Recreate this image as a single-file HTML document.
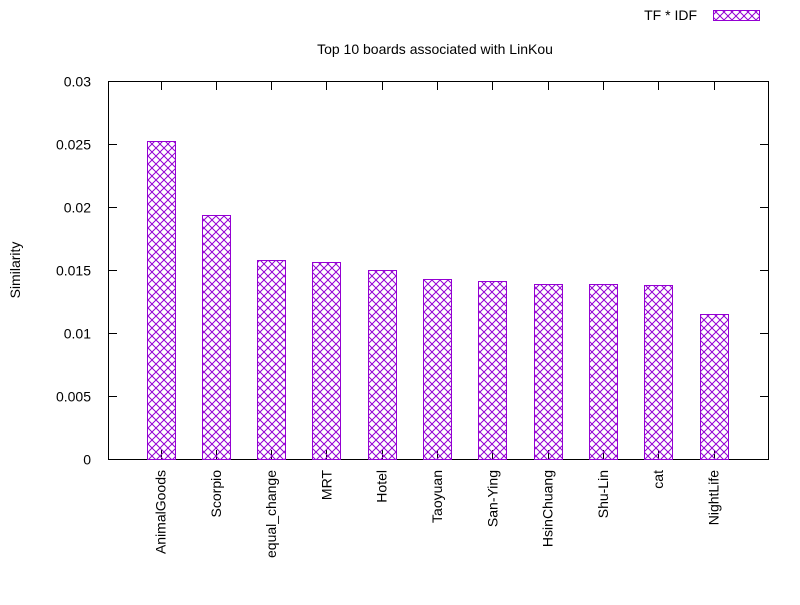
<!DOCTYPE html>
<html><head><meta charset="utf-8"><style>body{margin:0;background:#fff}svg text{font-family:"Liberation Sans",sans-serif;font-size:14px;fill:#000}</style></head>
<body>
<svg id="chart" width="800" height="600" xmlns="http://www.w3.org/2000/svg">
<defs>
<pattern id="hatch" patternUnits="userSpaceOnUse" width="8" height="8">
<path d="M0,0 L8,8 M8,0 L0,8" stroke="#9400d3" stroke-width="1" fill="none"/>
</pattern>
</defs>
<rect x="108.5" y="81.5" width="660" height="378" fill="none" stroke="#000" stroke-width="1"/>
<text x="435" y="54" text-anchor="middle">Top 10 boards associated with LinKou</text>
<text transform="translate(20,270) rotate(-90)" text-anchor="middle">Similarity</text>
<text x="697" y="20" text-anchor="end">TF * IDF</text>
<rect x="713.5" y="10.5" width="46" height="10" fill="url(#hatch)" stroke="#9400d3"/>
<g id="axes"></g>
<g id="bars"></g>
</svg>
<script>
const categories = ["AnimalGoods","Scorpio","equal_change","MRT","Hotel","Taoyuan","San-Ying","HsinChuang","Shu-Lin","cat","NightLife"];
const values = [0.0252,0.0194,0.0158,0.0156,0.0150,0.0143,0.0141,0.0139,0.0139,0.0138,0.0115];
const yTicks = [0,0.005,0.01,0.015,0.02,0.025,0.03];
const yTickLabels = ["0","0.005","0.01","0.015","0.02","0.025","0.03"];
const NS="http://www.w3.org/2000/svg";
const L=108,R=769,T=81,B=459;
function y(v){return B-(v/0.03)*(B-T);}
function x(i){return L+52.5+i*(R-L-108)/10;}
const axes=document.getElementById('axes'), bars=document.getElementById('bars');
yTicks.forEach((t,k)=>{
  const yy=Math.round(y(t))+0.5;
  const ln=document.createElementNS(NS,'path');
  ln.setAttribute('d',`M${L},${yy}h9M${R},${yy}h-9`);
  ln.setAttribute('stroke','#000');
  
  
  axes.appendChild(ln);
  const tx=document.createElementNS(NS,'text');
  tx.setAttribute('x',91);tx.setAttribute('y',yy+5);tx.setAttribute('text-anchor','end');
  tx.textContent=yTickLabels[k];
  
  
  axes.appendChild(tx);
});
categories.forEach((c,i)=>{
  const cx=x(i);
  const r=document.createElementNS(NS,'rect');
  r.setAttribute('x',Math.round(cx-14)+0.5);r.setAttribute('y',Math.round(y(values[i]))+0.5);
  r.setAttribute('width',28);r.setAttribute('height',B-Math.round(y(values[i])));
  r.setAttribute('fill','url(#hatch)');r.setAttribute('stroke','#9400d3');
  
  
  bars.appendChild(r);
  const tk=document.createElementNS(NS,'path');
  tk.setAttribute('d',`M${Math.round(cx)+0.5},${B}v-9M${Math.round(cx)+0.5},${T}v9`);
  tk.setAttribute('stroke','#000');
  
  
  axes.appendChild(tk);
  const tx=document.createElementNS(NS,'text');
  tx.setAttribute('transform',`translate(${cx+5},${B+11}) rotate(-90)`);
  tx.setAttribute('text-anchor','end');
  tx.textContent=c;
  
  
  axes.appendChild(tx);
});
</script>
</body></html>
